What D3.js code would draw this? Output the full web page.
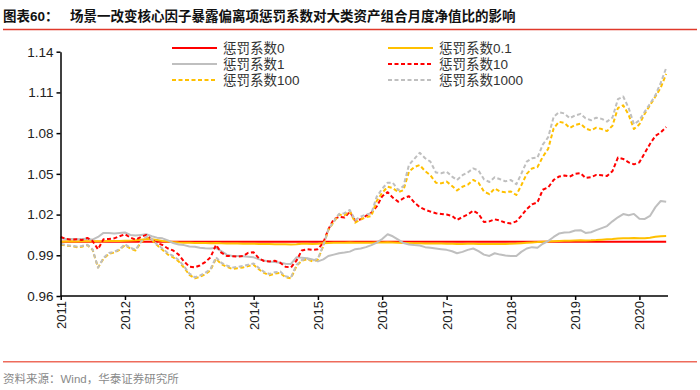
<!DOCTYPE html>
<html><head><meta charset="utf-8">
<script src="https://cdn.jsdelivr.net/npm/d3@7"></script>
<style>body{margin:0;background:#fff;}svg{display:block;}</style>
</head><body><svg id="c" width="700" height="390"></svg>
<script>
// ---- data (monthly, Jan 2011 – Jun 2020) ----
const startMonth = "2011-01";
const endMonth = "2020-06";
const yTicks = [0.96, 0.99, 1.02, 1.05, 1.08, 1.11, 1.14];
const xTickYears = [2011,2012,2013,2014,2015,2016,2017,2018,2019,2020];
const seriesNames = ["惩罚系数0","惩罚系数0.1","惩罚系数1","惩罚系数10","惩罚系数100","惩罚系数1000"];

const p0 = [
1,1,1,1,1,1,1,1,1,1,1,1,
1,1,1,1,1,1,1,1,1,1,1,1,
1,1,1,1,1,1,1,1,1,1,1,1,
1,1,1,1,1,1,1,1,1,1,1,1,
1,1,1,1,1,1,1,1,1,1,1,1,
1,1,1,1,1,1,1,1,1,1,1,1,
1,1,1,1,1,1,1,1,1,1,1,1,
1,1,1,1,1,1,1,1,1,1,1,1,
1,1,1,1,1,1,1,1,1,1,1,1,
1,1,1,1,1,1];
const p01 = [
1.0000,1.0002,1.0003,1.0002,1.0003,1.0004,1.0004,1.0003,1.0004,1.0005,1.0006,1.0006,
1.0007,1.0008,1.0010,1.0015,1.0020,1.0018,1.0012,1.0006,1.0002,0.9998,0.9995,0.9993,
0.9992,0.9991,0.9990,0.9990,0.9989,0.9990,0.9988,0.9987,0.9986,0.9986,0.9985,0.9985,
0.9985,0.9984,0.9983,0.9983,0.9982,0.9982,0.9981,0.9980,0.9982,0.9985,0.9985,0.9984,
0.9985,0.9988,0.9990,0.9992,0.9993,0.9993,0.9994,0.9992,0.9992,0.9993,0.9993,0.9994,
0.9995,0.9996,0.9994,0.9992,0.9990,0.9990,0.9989,0.9988,0.9987,0.9987,0.9986,0.9986,
0.9985,0.9985,0.9984,0.9984,0.9985,0.9985,0.9984,0.9983,0.9983,0.9984,0.9984,0.9984,
0.9985,0.9986,0.9989,0.9992,0.9995,0.9997,1.0000,1.0002,1.0004,1.0006,1.0007,1.0007,
1.0009,1.0010,1.0009,1.0010,1.0012,1.0015,1.0018,1.0020,1.0024,1.0026,1.0025,1.0027,
1.0025,1.0026,1.0030,1.0036,1.0041,1.0042];
const p1 = [
1.0025,1.0020,1.0020,1.0018,1.0020,1.0022,1.0015,1.0035,1.0065,1.0065,1.0060,1.0065,
1.0068,1.0050,1.0045,1.0050,1.0055,1.0040,1.0030,1.0025,1.0010,0.9990,0.9980,0.9975,
0.9965,0.9963,0.9955,0.9952,0.9950,0.9955,0.9930,0.9905,0.9895,0.9895,0.9893,0.9890,
0.9885,0.9870,0.9862,0.9855,0.9850,0.9845,0.9838,0.9836,0.9885,0.9882,0.9878,0.9870,
0.9855,0.9870,0.9895,0.9905,0.9915,0.9920,0.9927,0.9945,0.9950,0.9960,0.9975,0.9993,
1.0020,1.0055,1.0040,1.0015,0.9990,0.9980,0.9975,0.9972,0.9960,0.9955,0.9950,0.9945,
0.9940,0.9930,0.9915,0.9925,0.9940,0.9950,0.9930,0.9905,0.9895,0.9915,0.9905,0.9898,
0.9895,0.9895,0.9925,0.9950,0.9960,0.9955,0.9985,1.0005,1.0035,1.0060,1.0068,1.0070,
1.0082,1.0085,1.0065,1.0070,1.0085,1.0100,1.0115,1.0150,1.0180,1.0204,1.0195,1.0205,
1.0170,1.0168,1.0190,1.0255,1.0300,1.0295];
const p10 = [
1.0035,1.0020,1.0015,1.0018,1.0012,1.0028,1.0005,0.9944,1.0018,1.0020,1.0025,1.0040,
1.0055,1.0030,1.0015,1.0035,1.0050,1.0015,0.9990,0.9976,0.9950,0.9935,0.9905,0.9855,
0.9816,0.9811,0.9825,0.9850,0.9885,0.9976,0.9920,0.9895,0.9893,0.9890,0.9895,0.9918,
0.9922,0.9875,0.9858,0.9855,0.9860,0.9845,0.9815,0.9811,0.9860,0.9935,0.9944,0.9940,
0.9945,0.9995,1.0090,1.0165,1.0184,1.0178,1.0221,1.0155,1.0165,1.0190,1.0215,1.0260,
1.0335,1.0365,1.0325,1.0295,1.0320,1.0335,1.0290,1.0255,1.0235,1.0222,1.0210,1.0205,
1.0200,1.0190,1.0160,1.0182,1.0200,1.0229,1.0205,1.0145,1.0150,1.0165,1.0155,1.0140,
1.0135,1.0150,1.0190,1.0240,1.0275,1.0290,1.0383,1.0400,1.0455,1.0480,1.0488,1.0480,
1.0500,1.0505,1.0470,1.0475,1.0492,1.0490,1.0485,1.0520,1.0620,1.0610,1.0585,1.0570,
1.0585,1.0655,1.0720,1.0780,1.0805,1.0845];
const p100 = [
0.9980,0.9970,0.9968,0.9960,0.9963,0.9975,0.9940,0.9810,0.9875,0.9910,0.9920,0.9940,
0.9975,0.9950,0.9935,0.9995,1.0030,1.0015,0.9975,0.9940,0.9905,0.9885,0.9855,0.9810,
0.9755,0.9730,0.9740,0.9760,0.9790,0.9875,0.9835,0.9815,0.9800,0.9805,0.9810,0.9820,
0.9830,0.9795,0.9770,0.9752,0.9765,0.9770,0.9738,0.9730,0.9820,0.9860,0.9870,0.9855,
0.9870,0.9970,1.0085,1.0145,1.0200,1.0195,1.0225,1.0140,1.0165,1.0180,1.0190,1.0300,
1.0360,1.0405,1.0395,1.0365,1.0380,1.0516,1.0550,1.0565,1.0520,1.0490,1.0435,1.0430,
1.0443,1.0410,1.0378,1.0405,1.0420,1.0455,1.0435,1.0370,1.0350,1.0392,1.0370,1.0365,
1.0370,1.0344,1.0415,1.0500,1.0540,1.0550,1.0625,1.0685,1.0835,1.0884,1.0875,1.0838,
1.0860,1.0870,1.0835,1.0820,1.0840,1.0830,1.0815,1.0855,1.0985,1.1005,1.0935,1.0830,
1.0865,1.0945,1.1005,1.1070,1.1135,1.1236];
const p1000 = [
0.9985,0.9975,0.9970,0.9965,0.9968,0.9978,0.9945,0.9809,0.9880,0.9917,0.9925,0.9945,
0.9981,0.9955,0.9940,1.0000,1.0037,1.0020,0.9980,0.9950,0.9915,0.9895,0.9865,0.9820,
0.9765,0.9738,0.9750,0.9770,0.9800,0.9885,0.9845,0.9825,0.9809,0.9815,0.9821,0.9830,
0.9840,0.9805,0.9778,0.9762,0.9775,0.9780,0.9745,0.9738,0.9828,0.9865,0.9875,0.9860,
0.9875,0.9975,1.0090,1.0150,1.0205,1.0210,1.0234,1.0160,1.0185,1.0200,1.0210,1.0332,
1.0390,1.0435,1.0435,1.0380,1.0410,1.0565,1.0610,1.0655,1.0615,1.0590,1.0510,1.0505,
1.0516,1.0480,1.0455,1.0490,1.0510,1.0540,1.0525,1.0460,1.0440,1.0475,1.0460,1.0445,
1.0455,1.0423,1.0500,1.0590,1.0615,1.0620,1.0715,1.0770,1.0920,1.0954,1.0945,1.0910,
1.0930,1.0942,1.0910,1.0895,1.0914,1.0905,1.0885,1.0915,1.1050,1.1070,1.0985,1.0865,
1.0895,1.0960,1.1015,1.1080,1.1170,1.1280];

// ---- layout / style ----
const svg = d3.select("#c");
const L = 60.5, R = 668, T = 51.7, B = 296;
const parse = d3.timeParse("%Y-%m");
const months = d3.timeMonth.range(parse(startMonth), d3.timeMonth.offset(parse(endMonth), 1));
const x = d3.scaleTime().domain([new Date(2011,0,1), new Date(2020,0,1)]).range([60.7, 60.7 + 9*64.3]);
const y = d3.scaleLinear().domain([0.96, 1.14]).range([B, T]);
const cjk = "'Liberation Sans', Arial, 'Noto Sans CJK SC', sans-serif";

const styles = [
  {data:p0,    color:"#FF0000", dash:null,  w:2},
  {data:p01,   color:"#FFC000", dash:null,  w:2},
  {data:p1,    color:"#BFBFBF", dash:null,  w:2},
  {data:p10,   color:"#FF0000", dash:"4,2.5", w:2},
  {data:p100,  color:"#FFC000", dash:"4,2.5", w:2},
  {data:p1000, color:"#BFBFBF", dash:"4,2.5", w:2}
];

// title
svg.append("text").attr("x",3).attr("y",21).attr("font-family",cjk).attr("font-weight","bold")
  .attr("font-size",13.5).attr("fill","#111").text("图表60：");
svg.append("text").attr("x",70).attr("y",21).attr("font-family",cjk).attr("font-weight","bold")
  .attr("font-size",13.5).attr("fill","#111").text("场景一改变核心因子暴露偏离项惩罚系数对大类资产组合月度净值比的影响");
svg.append("line").attr("x1",3).attr("x2",697).attr("y1",29.5).attr("y2",29.5)
  .attr("stroke","#E0392B").attr("stroke-width",1.5);

// lines
const line = d3.line().x((d,i)=>x(months[i])).y(d=>y(d));
styles.forEach(s=>{
  svg.append("path").datum(s.data).attr("d",line).attr("fill","none")
    .attr("stroke",s.color).attr("stroke-width",s.w)
    .attr("stroke-dasharray",s.dash).attr("stroke-linejoin","round");
});

// axes
const yAxis = d3.axisLeft(y).tickValues(yTicks).tickFormat(d3.format(".2f")).tickSize(4).tickSizeOuter(0);
const gy = svg.append("g").attr("transform",`translate(${L},0)`).call(yAxis);
gy.select(".domain").attr("stroke","#000").attr("stroke-width",1.5);
gy.selectAll(".tick line").attr("stroke","#000").attr("stroke-width",1.5);
gy.selectAll(".tick text").attr("font-family",cjk).attr("font-size",13.5).attr("fill","#222").attr("x",-7);

const xAxis = d3.axisBottom(x).tickValues(xTickYears.map(v=>new Date(v,0,1)))
  .tickFormat(d3.timeFormat("%Y")).tickSize(4).tickSizeOuter(0);
const gx = svg.append("g").attr("transform",`translate(0,${B})`).call(xAxis);
gx.select(".domain").attr("d",`M${L},0H${R}`).attr("stroke","#000").attr("stroke-width",1.5);
gx.selectAll(".tick line").attr("stroke","#000").attr("stroke-width",1.5);
gx.selectAll(".tick text").attr("font-family",cjk).attr("font-size",13).attr("fill","#222")
  .attr("transform","rotate(-90)").attr("text-anchor","end").attr("x",-5).attr("y",0).attr("dy","0.35em");

// legend
const legPos = [[172,48],[388,48],[172,64],[388,64],[172,80],[388,80]];
styles.forEach((s,i)=>{
  const [lx,ly] = legPos[i];
  svg.append("line").attr("x1",lx).attr("x2",lx+45).attr("y1",ly).attr("y2",ly)
    .attr("stroke",s.color).attr("stroke-width",2).attr("stroke-dasharray",s.dash);
  svg.append("text").attr("x",lx+51).attr("y",ly).attr("dy","0.36em").attr("font-family",cjk)
    .attr("font-size",13.5).attr("fill","#333").text(seriesNames[i]);
});

// footer
svg.append("line").attr("x1",3).attr("x2",697).attr("y1",361.7).attr("y2",361.7)
  .attr("stroke","#EE6B5B").attr("stroke-width",1.5);
svg.append("text").attr("x",3).attr("y",382.5).attr("font-family",cjk).attr("font-size",11.5)
  .attr("fill","#8a8a8a").text("资料来源：Wind，华泰证券研究所");
</script></body></html>
